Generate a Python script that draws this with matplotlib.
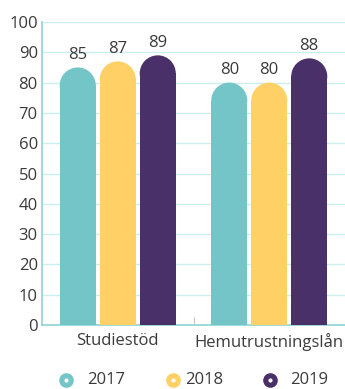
import matplotlib.pyplot as plt
from matplotlib.patches import Rectangle, Ellipse
from matplotlib.lines import Line2D

categories = ['Studiestöd', 'Hemutrustningslån']
years = ['2017', '2018', '2019']
values_2017 = [85, 80]
values_2018 = [87, 80]
values_2019 = [89, 88]
colors = ['#74c5c8', '#fed066', '#4a3068']

plt.rcParams['font.family'] = ['Open Sans', 'DejaVu Sans']
text_col = '#3a3a3a'
line_col = '#8fd3d6'

fig = plt.figure(figsize=(3.45, 3.89), dpi=100)
ax = fig.add_axes([42 / 345, 1 - 325 / 389, 303 / 345, 303 / 389])
ax.set_xlim(-0.5, 1.5)
ax.set_ylim(0, 100)

# bar geometry
bw = 0.238
step = 0.264
fig.canvas.draw()
# radius of rounded top in data-y units, matching half the bar width in pixels
p0 = ax.transData.transform((0, 0))
px = ax.transData.transform((bw, 0))[0] - p0[0]
py_per_unit = ax.transData.transform((0, 1))[1] - p0[1]
ry = (px / 2) / py_per_unit

series = [values_2017, values_2018, values_2019]
for j, vals in enumerate(series):
    for i, v in enumerate(vals):
        xc = i + (j - 1) * step
        ax.add_patch(Rectangle((xc - bw / 2, 0), bw, v - ry, color=colors[j], lw=0, zorder=3))
        ax.add_patch(Ellipse((xc, v - ry), bw, 2 * ry, color=colors[j], lw=0, zorder=3))
        ax.annotate(str(v), (xc, v), xytext=(0, 3), textcoords='offset points',
                    ha='center', va='bottom', fontsize=12, color=text_col)

ax.set_yticks(range(0, 101, 10))
ax.tick_params(axis='y', length=0, labelsize=12, labelcolor=text_col, pad=3)
ax.set_xticks([0, 1])
ax.set_xticklabels(categories)
ax.tick_params(axis='x', length=0, labelsize=12, labelcolor=text_col, pad=6)
ax.set_xticks([0.5], minor=True)
ax.tick_params(axis='x', which='minor', direction='in', length=6, color='#c9c0d8', width=0.8)

ax.grid(axis='y', color='#cdeeee', lw=1, zorder=0)
for s in ['top', 'right']:
    ax.spines[s].set_visible(False)
for s in ['left', 'bottom']:
    ax.spines[s].set_color(line_col)
    ax.spines[s].set_linewidth(1.2)

# legend
leg_y = 1 - 380 / 389
marker_x = [66, 173, 270]
text_x = [87, 185, 290]
for k in range(3):
    fig.add_artist(Line2D([marker_x[k] / 345], [leg_y], marker='o', ms=9.5, color=colors[k],
                          lw=0, transform=fig.transFigure))
    fig.add_artist(Line2D([marker_x[k] / 345], [leg_y], marker='o', ms=2, color='white',
                          lw=0, transform=fig.transFigure))
    fig.text(text_x[k] / 345, leg_y, years[k], ha='left', va='center', fontsize=12, color=text_col)

fig.savefig('out.png', dpi=100)
